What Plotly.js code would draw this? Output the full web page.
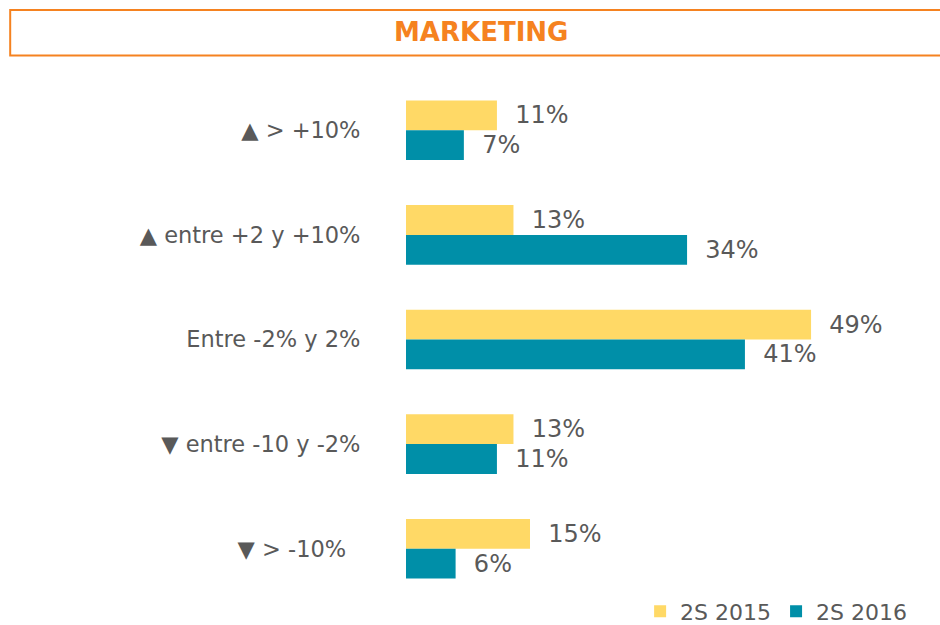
<!DOCTYPE html>
<html><head><meta charset="utf-8">
<script src="https://cdn.plot.ly/plotly-3.0.1.min.js"></script>
<style>html,body{margin:0;padding:0;background:#fff;}#chart{width:940px;height:625px;}</style>
</head><body><div id="chart"></div>
<script>
const categories = ["▲ > +10%", "▲ entre +2 y +10%", "Entre -2% y 2%", "▼ entre -10 y -2%", "▼ > -10%\u00a0\u00a0"];
const series2015 = [11, 13, 49, 13, 15];
const series2016 = [7, 34, 41, 11, 6];
const seriesNames = ["2S 2015", "2S 2016"];
const colors = ["#FFD966", "#008FA8"];
const font = "'DejaVu Sans', sans-serif";
const gray = "#595959";

function mk(vals, i){
  return {type:'bar', orientation:'h', y:categories, x:vals, name:seriesNames[i],
    marker:{color:colors[i]}, text:vals.map(v=>'\u00a0\u00a0'+v+'%'), textposition:'outside',
    textfont:{size:24,color:gray,family:font}, cliponaxis:false, hoverinfo:'none'};
}
const data=[mk(series2015,0), mk(series2016,1)];
const layout={
  width:940,height:625,margin:{l:406,r:38,t:77.5,b:23.5,autoexpand:false},
  paper_bgcolor:'#fff',plot_bgcolor:'#fff',
  barmode:'group',bargap:0.43,bargroupgap:0,
  font:{family:font,color:gray},
  xaxis:{range:[0,60],showgrid:false,zeroline:false,showticklabels:false,showline:false,fixedrange:true},
  yaxis:{autorange:'reversed',type:'category',showgrid:false,showline:false,ticks:'outside',ticklen:40,tickcolor:'rgba(0,0,0,0)',
    tickfont:{size:22.5,color:gray,family:font}},
  showlegend:true,
  legend:{orientation:'h',x:0.472,xanchor:'left',y:-0.02,yanchor:'middle',font:{size:22,color:gray,family:font},traceorder:'normal',itemwidth:30},
  shapes:[{type:'rect',xref:'paper',yref:'paper',x0:-0.798,x1:1.08,y0:1.043,y1:1.13,line:{color:'#F58220',width:2},fillcolor:'rgba(0,0,0,0)'}],
  annotations:[{xref:'paper',yref:'paper',x:(481-406)/496,y:(601.5-31)/524,xanchor:'center',yanchor:'middle',showarrow:false,
    text:'<b>MARKETING</b>',font:{size:26,color:'#F58220',family:font}}]
};
Plotly.newPlot('chart',data,layout,{displayModeBar:false,staticPlot:true});
</script></body></html>
